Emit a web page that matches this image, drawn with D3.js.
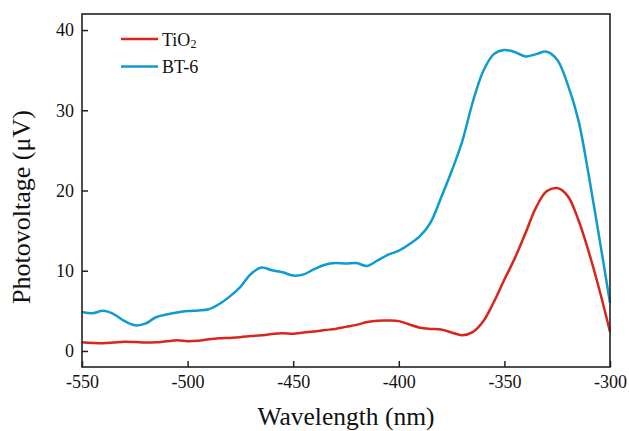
<!DOCTYPE html>
<html>
<head>
<meta charset="utf-8">
<script src="https://cdn.jsdelivr.net/npm/d3@7"></script>
<style>
  body { margin: 0; background: #fff; }
  text { font-family: "Liberation Serif", "Times New Roman", serif; fill: #111; }
</style>
</head>
<body>
<div id="chart"></div>
<script>
// wavelength grid (nm), every 5 nm
const wavelengths = d3.range(-550, -299, 5);

const tio2 = [
  1.1, 1.0, 0.95, 1.05, 1.15, 1.12, 1.05, 1.08, 1.2, 1.32,
  1.22, 1.28, 1.45, 1.57, 1.63, 1.72, 1.85, 1.95, 2.12, 2.2,
  2.15, 2.3, 2.42, 2.6, 2.75, 3.0, 3.25, 3.6, 3.78, 3.8,
  3.72, 3.3, 2.9, 2.75, 2.68, 2.3, 1.97, 2.35, 3.7, 6.1,
  8.9, 11.6, 14.7, 17.9, 19.9, 20.3, 19.3, 16.35, 12.3, 7.6,
  2.4
];

const bt6 = [
  4.85, 4.7, 5.0, 4.6, 3.75, 3.2, 3.4, 4.2, 4.55, 4.8,
  4.98, 5.05, 5.2, 5.85, 6.8, 8.0, 9.6, 10.4, 10.05, 9.8,
  9.4, 9.55, 10.2, 10.75, 10.97, 10.9, 10.95, 10.6, 11.3, 12.0,
  12.5, 13.3, 14.3, 16.0, 19.1, 22.4, 26.1, 31.0, 34.9, 37.0,
  37.5, 37.25, 36.7, 37.0, 37.3, 36.3, 33.2, 28.8, 21.8, 14.0,
  6.0
];

const xTicks = [-550, -500, -450, -400, -350, -300];
const yTicks = [0, 10, 20, 30, 40];

const series = [
  { name: "TiO", sub: "2", values: tio2, color: "#d9261c" },
  { name: "BT-6", sub: "", values: bt6, color: "#0e9bd0" }
];

const W = 629, H = 431;
const margin = { top: 14, right: 19, bottom: 64, left: 82 };
const width = W - margin.left - margin.right;
const height = H - margin.top - margin.bottom;

const svg = d3.select("#chart").append("svg")
  .attr("width", W)
  .attr("height", H);

const g = svg.append("g")
  .attr("transform", "translate(" + margin.left + "," + margin.top + ")");

const x = d3.scaleLinear().domain([-550, -300]).range([0, width]);
const y = d3.scaleLinear().domain([-2, 42]).range([height, 0]);

// plain hyphen instead of d3's unicode minus, like the original
const plain = function(d) { return String(d); };

// axes, ticks pointing inward
const xAxis = g.append("g")
  .attr("transform", "translate(0," + height + ")")
  .call(d3.axisBottom(x).tickValues(xTicks).tickFormat(plain).tickSize(-6).tickPadding(8));
const yAxis = g.append("g")
  .call(d3.axisLeft(y).tickValues(yTicks).tickFormat(plain).tickSize(-6).tickPadding(8));

[xAxis, yAxis].forEach(function(a) {
  a.select(".domain").remove();
  a.selectAll(".tick line").attr("stroke", "#222").attr("stroke-width", 1.5);
  a.selectAll(".tick text").style("font-size", "18px").attr("fill", "#111");
});

const line = d3.line()
  .x(function(d, i) { return x(wavelengths[i]); })
  .y(function(d) { return y(d); })
  .curve(d3.curveCatmullRom);

series.forEach(function(s) {
  g.append("path")
    .attr("fill", "none")
    .attr("stroke", s.color)
    .attr("stroke-width", 2.5)
    .attr("stroke-linejoin", "round")
    .attr("d", line(s.values));
});

// frame on top
g.append("rect")
  .attr("width", width)
  .attr("height", height)
  .attr("fill", "none")
  .attr("stroke", "#222")
  .attr("stroke-width", 1.6);

// legend
const legend = svg.append("g").attr("transform", "translate(121,39)");
series.forEach(function(s, i) {
  const row = legend.append("g").attr("transform", "translate(0," + (i * 27.5) + ")");
  row.append("line")
    .attr("x1", 0).attr("x2", 37)
    .attr("stroke", s.color)
    .attr("stroke-width", 2.5);
  const t = row.append("text")
    .attr("x", 41)
    .attr("y", 6.5)
    .style("font-size", "18px")
    .text(s.name);
  if (s.sub) {
    t.append("tspan")
      .attr("dy", 2)
      .style("font-size", "12px")
      .text(s.sub);
  }
});

// axis titles
svg.append("text")
  .attr("x", 346)
  .attr("y", 425)
  .attr("text-anchor", "middle")
  .style("font-size", "25.5px")
  .text("Wavelength (nm)");

svg.append("text")
  .attr("transform", "translate(30,207) rotate(-90)")
  .attr("text-anchor", "middle")
  .style("font-size", "26px")
  .text("Photovoltage (μV)");
</script>
</body>
</html>
